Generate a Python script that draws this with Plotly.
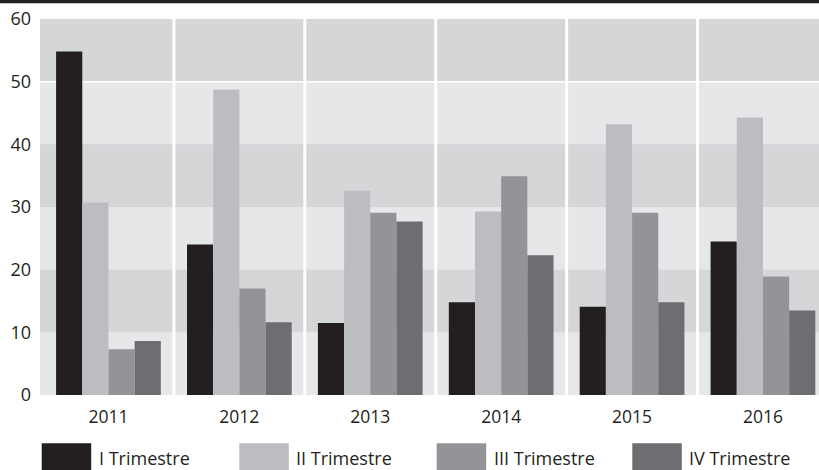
import plotly.graph_objects as go

years = ["2011", "2012", "2013", "2014", "2015", "2016"]
series_names = ["I Trimestre", "II Trimestre", "III Trimestre", "IV Trimestre"]
q1 = [54.8, 24.0, 11.5, 14.8, 14.1, 24.5]
q2 = [30.7, 48.7, 32.6, 29.3, 43.2, 44.3]
q3 = [7.3, 17.0, 29.1, 34.9, 29.1, 18.9]
q4 = [8.6, 11.6, 27.7, 22.3, 14.8, 13.5]
y_ticks = [0, 10, 20, 30, 40, 50, 60]

series_values = [q1, q2, q3, q4]
colors = ["#231f20", "#bcbdc0", "#939497", "#6d6e71"]
band_dark = "#d5d6d8"
band_light = "#e6e7e9"
text_color = "#231f20"
FONT = "Open Sans"

W, H = 819, 470
L, R, T, B = 40, 0, 19, 75
plot_w = W - L - R
plot_h = H - T - B


def px_to_paper_x(px):
    return (px - L) / plot_w


def px_to_paper_y(py):
    return (H - B - py) / plot_h


fig = go.Figure()
for name, vals, col in zip(series_names, series_values, colors):
    fig.add_trace(go.Bar(x=years, y=vals, name=name, marker=dict(color=col, line=dict(width=0)),
                         showlegend=False))

shapes = []
# alternating horizontal bands
for i in range(len(y_ticks) - 1):
    if i % 2 == 1:
        shapes.append(dict(type="rect", xref="paper", yref="y", x0=0, x1=1,
                           y0=y_ticks[i], y1=y_ticks[i + 1], fillcolor=band_dark,
                           line=dict(width=0), layer="below"))
# white line at 50
shapes.append(dict(type="line", xref="paper", yref="y", x0=0, x1=1, y0=50, y1=50,
                   line=dict(color="white", width=1.5), layer="below"))
# vertical separators between years
for i in range(len(years) - 1):
    shapes.append(dict(type="line", xref="x", yref="y", x0=i + 0.5, x1=i + 0.5,
                       y0=0, y1=60, line=dict(color="white", width=3), layer="below"))
# top dark band
shapes.append(dict(type="rect", xref="paper", yref="paper",
                   x0=px_to_paper_x(0), x1=px_to_paper_x(W),
                   y0=px_to_paper_y(3.3), y1=px_to_paper_y(-2),
                   fillcolor="#231f20", line=dict(width=0), layer="above"))

# custom legend
legend_x = [41.7, 239.3, 436.7, 632.3]
annotations = []
for lx, name, col in zip(legend_x, series_names, colors):
    shapes.append(dict(type="rect", xref="paper", yref="paper",
                       x0=px_to_paper_x(lx), x1=px_to_paper_x(lx + 49.5),
                       y0=px_to_paper_y(480), y1=px_to_paper_y(443.3),
                       fillcolor=col, line=dict(width=0)))
    annotations.append(dict(xref="paper", yref="paper", x=px_to_paper_x(lx + 55),
                            y=px_to_paper_y(458), xanchor="left", yanchor="middle",
                            text=name, showarrow=False,
                            font=dict(family=FONT, size=18, color=text_color)))

fig.update_layout(
    width=W, height=H,
    margin=dict(l=L, r=R, t=T, b=B, pad=0),
    paper_bgcolor="white",
    plot_bgcolor=band_light,
    barmode="group", bargap=0.2, bargroupgap=0,
    shapes=shapes, annotations=annotations,
    font=dict(family=FONT, size=17, color=text_color),
    xaxis=dict(type="category", range=[-0.523, 5.428], showgrid=False, zeroline=False,
               showline=False, ticks="", ticklabelstandoff=9,
               tickfont=dict(family=FONT, size=17.5, color=text_color)),
    yaxis=dict(range=[0, 60], tickvals=y_ticks, showgrid=False, zeroline=False,
               showline=False, ticks="", ticklabelstandoff=8,
               tickfont=dict(family=FONT, size=18, color=text_color)),
)

fig.write_html("out.html")
